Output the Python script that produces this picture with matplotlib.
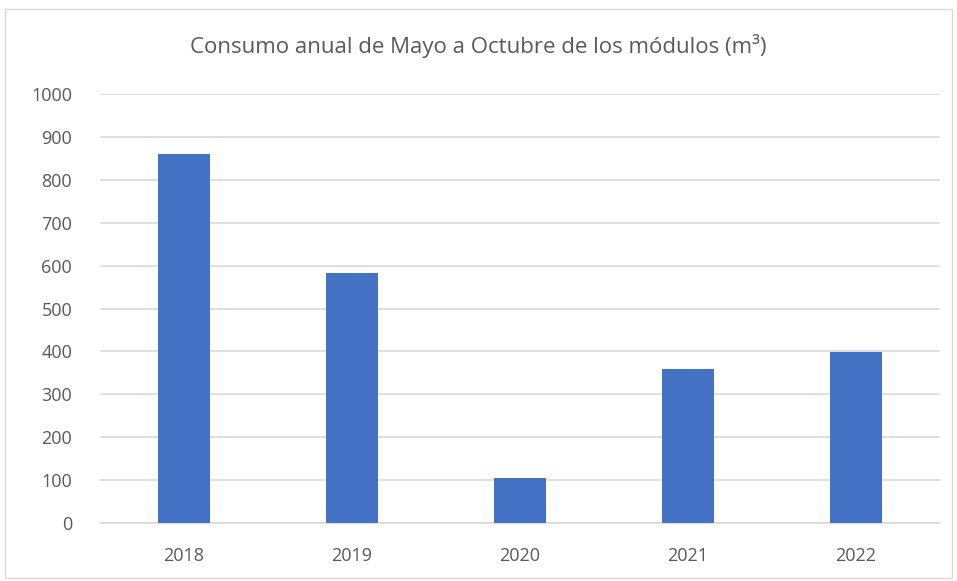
import matplotlib
matplotlib.use('Agg')
import matplotlib.pyplot as plt
from matplotlib.patches import Rectangle

# datos
years = ['2018', '2019', '2020', '2021', '2022']
consumo = [860, 583, 105, 360, 398]
y_ticks = list(range(0, 1001, 100))

text_color = '#595959'
bar_color = '#4472C4'
grid_color = '#D9D9D9'

plt.rcParams['font.family'] = ['Open Sans', 'DejaVu Sans']

fig = plt.figure(figsize=(9.57, 5.81), dpi=100)
ax = fig.add_axes([100 / 957, 1 - 523 / 581, 840 / 957, 429 / 581])

ax.bar(range(len(years)), consumo, width=0.31, color=bar_color, zorder=3)

ax.set_xlim(-0.5, len(years) - 0.5)
ax.set_ylim(0, 1000)
ax.set_yticks(y_ticks)
ax.set_xticks(range(len(years)))
ax.set_xticklabels(years)
ax.yaxis.grid(True, color=grid_color, linewidth=1.2, zorder=0)
ax.tick_params(axis='both', length=0, labelsize=13, labelcolor=text_color)
ax.tick_params(axis='y', pad=20)
ax.tick_params(axis='x', pad=17)
for side in ['top', 'right', 'left']:
	ax.spines[side].set_visible(False)
ax.spines['bottom'].set_color(grid_color)
ax.spines['bottom'].set_linewidth(1.2)

fig.text(0.5, 1 - 46 / 581, 'Consumo anual de Mayo a Octubre de los módulos (m³)',
	ha='center', va='center', fontsize=16, color=text_color)

# marco exterior del grafico
fig.patches.append(Rectangle((5 / 957, 3 / 581), 947 / 957, 569 / 581,
	transform=fig.transFigure, fill=False, edgecolor=grid_color, linewidth=1))

fig.savefig('out.png', dpi=100)
